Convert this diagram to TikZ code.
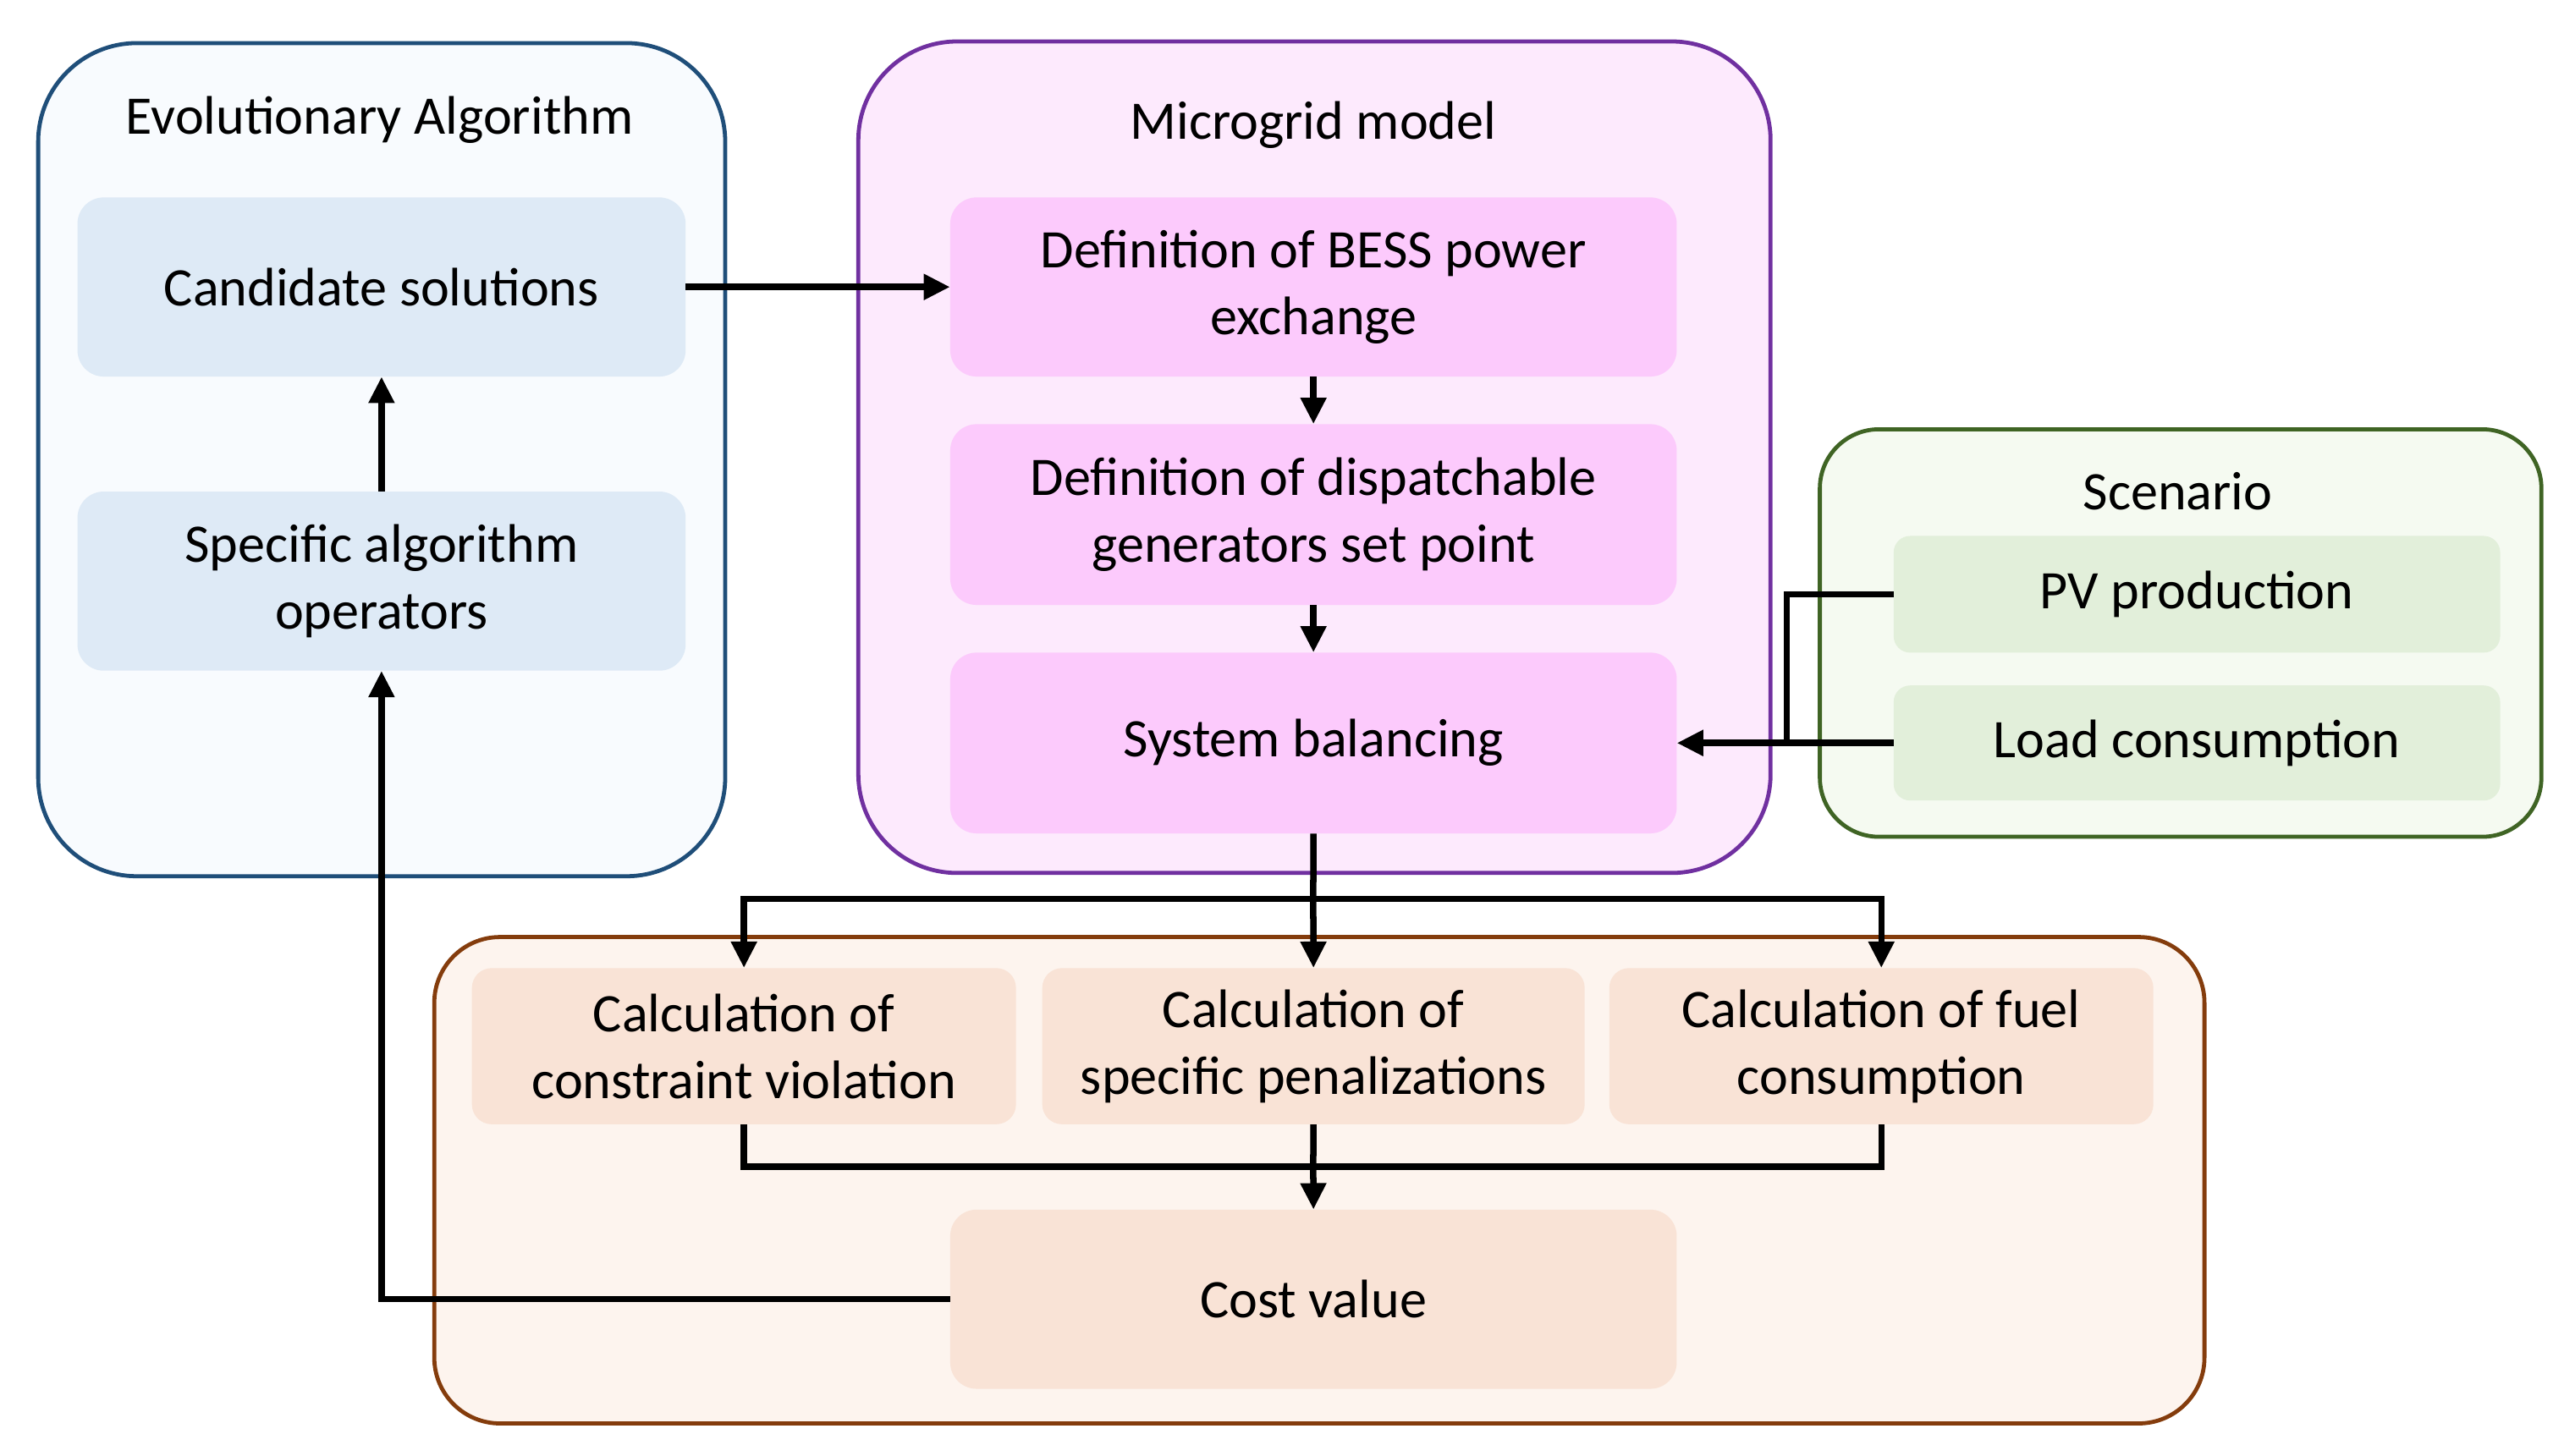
\documentclass[tikz,border=0pt]{standalone}
\usepackage{fontspec}
\setmainfont{Carlito}
\usetikzlibrary{arrows.meta}
\definecolor{eaB}{HTML}{1F4E79}\definecolor{eaF}{HTML}{F8FBFE}\definecolor{eaI}{HTML}{DEEAF6}
\definecolor{mgB}{HTML}{7030A0}\definecolor{mgF}{HTML}{FDEAFD}\definecolor{mgI}{HTML}{FCCAFC}
\definecolor{scB}{HTML}{3F6424}\definecolor{scF}{HTML}{F5FAF1}\definecolor{scI}{HTML}{E2EFDA}
\definecolor{coB}{HTML}{843C0C}\definecolor{coF}{HTML}{FDF4EE}\definecolor{coI}{HTML}{F9E3D6}
\tikzset{
 cont/.style={draw, line width=3.5pt, rounded corners=3cm, anchor=north west},
 box/.style={rounded corners=0.8cm, anchor=north west, align=center, font=\fontsize{47}{58}\selectfont, text=black},
 lbl/.style={font=\fontsize{47}{55}\selectfont},
 conn/.style={line width=5.5pt, -{Triangle[length=0.8cm,width=0.75cm]}},
 ln/.style={line width=5.5pt},
}
\begin{document}
\begin{tikzpicture}[x=0.05cm,y=-0.05cm]
\useasboundingbox (0,0) rectangle (1560,885.6);
% containers
\node[cont, draw=eaB, fill=eaF, minimum width=418*0.05cm, minimum height=507*0.05cm] (ea) at (22,25) {};
\node[cont, draw=mgB, fill=mgF, minimum width=555*0.05cm, minimum height=506*0.05cm] (mg) at (521,24) {};
\node[cont, draw=scB, fill=scF, rounded corners=1.8cm, minimum width=439*0.05cm, minimum height=248*0.05cm] (sc) at (1106,260) {};
\node[cont, draw=coB, fill=coF, rounded corners=2cm, minimum width=1077*0.05cm, minimum height=296*0.05cm] (co) at (263,569) {};
\node[lbl] (eat) at (231,73) {Evolutionary Algorithm};
\node[lbl] (mgt) at (799,76) {Microgrid model};
\node[lbl] (sct) at (1325,299) {Scenario};
% EA boxes
\node[box, fill=eaI, minimum width=370*0.05cm, minimum height=109*0.05cm] (cand) at (47,120) {Candidate solutions};
\node[box, fill=eaI, minimum width=370*0.05cm, minimum height=109*0.05cm] (spec) at (47,299) {Specific algorithm\\operators};
% MG boxes
\node[box, fill=mgI, minimum width=442*0.05cm, minimum height=109*0.05cm] (bess) at (578,120) {Definition of BESS power\\exchange};
\node[box, fill=mgI, minimum width=442*0.05cm, minimum height=110*0.05cm] (disp) at (578,258) {Definition of dispatchable\\generators set point};
\node[box, fill=mgI, minimum width=442*0.05cm, minimum height=110*0.05cm] (sys) at (578,397) {System balancing};
% scenario
\node[box, rounded corners=0.5cm, fill=scI, minimum width=369*0.05cm, minimum height=71*0.05cm] (pv) at (1152,326) {PV production};
\node[box, rounded corners=0.5cm, fill=scI, minimum width=369*0.05cm, minimum height=70*0.05cm] (load) at (1152,417) {Load consumption};
% cost
\node[box, rounded corners=0.6cm, fill=coI, minimum width=331*0.05cm, minimum height=95*0.05cm] (c1) at (287,589) {Calculation of\\constraint violation};
\node[box, rounded corners=0.6cm, fill=coI, minimum width=330*0.05cm, minimum height=95*0.05cm] (c2) at (634,589) {Calculation of\\specific penalizations};
\node[box, rounded corners=0.6cm, fill=coI, minimum width=331*0.05cm, minimum height=95*0.05cm] (c3) at (979,589) {Calculation of fuel\\consumption};
\node[box, fill=coI, minimum width=442*0.05cm, minimum height=109*0.05cm] (cost) at (578,736) {Cost value};
\coordinate (j1) at (799,547);
\coordinate (j2) at (799,710);
\coordinate (j3) at (1087,452);
% connectors
\draw[conn] (cand.east) -- (bess.west);
\draw[conn] (bess.south) -- (disp.north);
\draw[conn] (disp.south) -- (sys.north);
\draw[conn] (spec.north) -- (cand.south);
\draw[ln] (pv.west) -| (j3);
\draw[conn] (load.west) -- (sys.east);
\draw[ln] (sys.south) -- (j1);
\draw[conn] (j1) -| (c1.north);
\draw[conn] (j1) -| (c3.north);
\draw[conn] (j1) -- (c2.north);
\draw[ln] (c1.south) |- (j2);
\draw[ln] (c3.south) |- (j2);
\draw[ln] (c2.south) -- (j2);
\draw[conn] (j2) -- (cost.north);
\draw[conn] (cost.west) -| (spec.south);
\end{tikzpicture}
\end{document}
